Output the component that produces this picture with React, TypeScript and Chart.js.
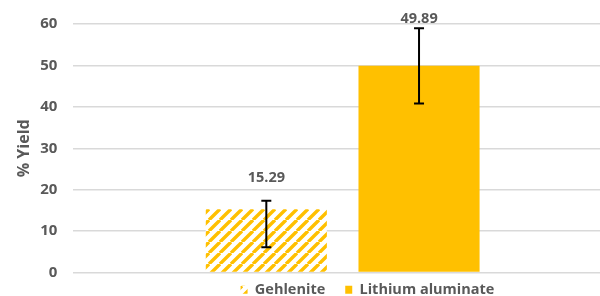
import React, { useEffect, useRef } from "react";
import { Chart, registerables } from "chart.js";

Chart.register(...registerables);

const categories = [""];
const seriesNames = ["Gehlenite", "Lithium aluminate"];
const yieldValues = [15.29, 49.89];
const errLow = [6.1, 40.8];
const errHigh = [17.35, 59.0];
const valueLabels = ["15.29", "49.89"];
const yTicks = [0, 10, 20, 30, 40, 50, 60];

const YELLOW = "#FFC000";
const TEXT = "#595959";
const FONT = "'Open Sans', sans-serif";

function makeHatch(): CanvasPattern | string {
  const s = 11;
  const c = document.createElement("canvas");
  c.width = s;
  c.height = s;
  const ctx = c.getContext("2d");
  if (!ctx) return YELLOW;
  ctx.fillStyle = "#ffffff";
  ctx.fillRect(0, 0, s, s);
  ctx.strokeStyle = YELLOW;
  ctx.lineWidth = 3.4;
  ctx.beginPath();
  for (const k of [-s, 0, s]) {
    ctx.moveTo(k, s);
    ctx.lineTo(k + s, 0);
  }
  ctx.stroke();
  return ctx.createPattern(c, "repeat") || YELLOW;
}

const errorBarPlugin = {
  id: "errorBars",
  afterDatasetsDraw(chart: any) {
    const { ctx } = chart;
    const yScale = chart.scales.y;
    ctx.save();
    ctx.strokeStyle = "#000000";
    ctx.lineWidth = 2;
    chart.data.datasets.forEach((ds: any, i: number) => {
      const meta = chart.getDatasetMeta(i);
      meta.data.forEach((bar: any) => {
        const x = bar.x;
        const yT = yScale.getPixelForValue(errHigh[i]);
        const yB = yScale.getPixelForValue(errLow[i]);
        const cap = 5;
        ctx.beginPath();
        ctx.moveTo(x, yT);
        ctx.lineTo(x, yB);
        ctx.moveTo(x - cap, yT);
        ctx.lineTo(x + cap, yT);
        ctx.moveTo(x - cap, yB);
        ctx.lineTo(x + cap, yB);
        ctx.stroke();
      });
    });
    ctx.restore();
  },
};

const labelGaps = [23, 9];

const valueLabelPlugin = {
  id: "valueLabels",
  afterDatasetsDraw(chart: any) {
    const { ctx } = chart;
    const yScale = chart.scales.y;
    ctx.save();
    ctx.fillStyle = TEXT;
    ctx.font = `bold 14.5px ${FONT}`;
    ctx.textAlign = "center";
    ctx.textBaseline = "middle";
    chart.data.datasets.forEach((ds: any, i: number) => {
      const meta = chart.getDatasetMeta(i);
      meta.data.forEach((bar: any) => {
        const y = yScale.getPixelForValue(errHigh[i]) - labelGaps[i];
        ctx.fillText(valueLabels[i], bar.x, y);
      });
    });
    ctx.restore();
  },
};

const legendShiftPlugin = {
  id: "legendShift",
  afterLayout(chart: any) {
    const lg = chart.legend;
    if (lg) {
      lg.left += 54;
      lg.right += 54;
      const h = lg.bottom - lg.top;
      lg.top = chart.chartArea.bottom - 10;
      lg.bottom = lg.top + h;
    }
  },
};

export default function App() {
  const ref = useRef<HTMLCanvasElement | null>(null);
  useEffect(() => {
    if (!ref.current) return;
    const hatch = makeHatch();
    const chart = new Chart(ref.current, {
      type: "bar",
      data: {
        labels: categories,
        datasets: [
          {
            label: seriesNames[0],
            data: [yieldValues[0]],
            backgroundColor: hatch as any,
            borderWidth: 0,
            categoryPercentage: 0.567,
            barPercentage: 0.793,
          },
          {
            label: seriesNames[1],
            data: [yieldValues[1]],
            backgroundColor: YELLOW,
            borderWidth: 0,
            categoryPercentage: 0.567,
            barPercentage: 0.793,
          },
        ],
      },
      options: {
        animation: false,
        responsive: false,
        maintainAspectRatio: false,
        layout: { padding: { top: 24, right: 0, left: 15, bottom: -29 } },
        plugins: {
          legend: {
            position: "bottom",
            labels: {
              boxWidth: 7,
              boxHeight: 8,
              color: TEXT,
              padding: 20,
              font: { family: FONT, size: 14.5, weight: "bold" },
            },
          },
          tooltip: { enabled: false },
        },
        scales: {
          x: {
            grid: { display: false },
            border: { display: false },
            ticks: { display: false },
          },
          y: {
            min: 0,
            max: 60,
            afterBuildTicks(scale: any) {
              scale.ticks = yTicks.map((v) => ({ value: v }));
            },
            grid: {
              color: "#d9d9d9",
              lineWidth: 1.5,
              drawTicks: true,
              tickLength: 16,
              tickColor: "rgba(0,0,0,0)",
            },
            border: { display: false },
            ticks: {
              color: TEXT,
              padding: 0,
              font: { family: FONT, size: 15, weight: "bold" },
            },
            title: {
              display: true,
              text: "% Yield",
              color: TEXT,
              padding: { top: 0, bottom: 6 },
              font: { family: FONT, size: 16, weight: "bold" },
            },
          },
        },
      },
      plugins: [errorBarPlugin, valueLabelPlugin, legendShiftPlugin],
    });
    return () => chart.destroy();
  }, []);
  return (
    <div style={{ position: "fixed", left: 0, top: 0, width: 612, height: 296, background: "#fff" }}>
      <canvas ref={ref} width={612} height={296} style={{ width: 612, height: 296 }} />
    </div>
  );
}
